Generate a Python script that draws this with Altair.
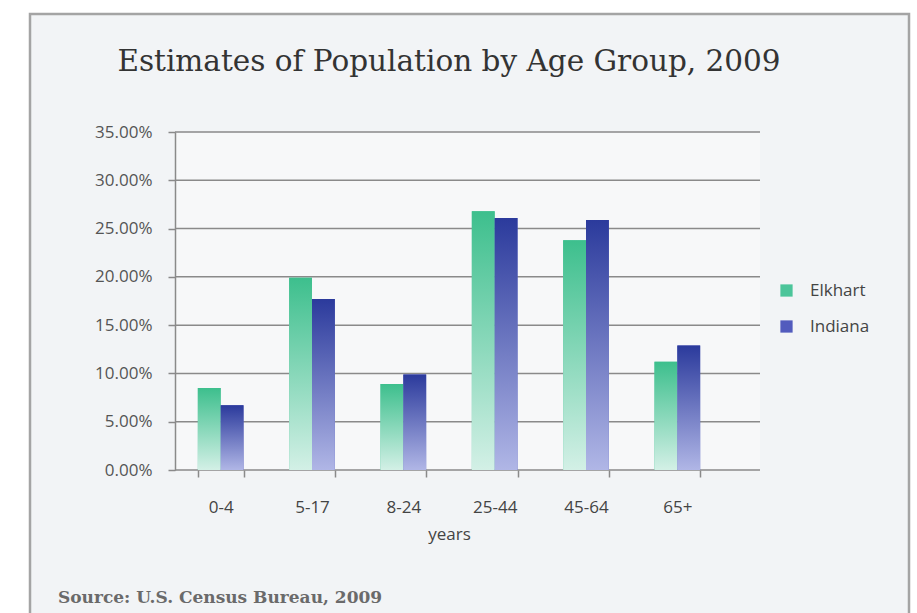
import altair as alt
import pandas as pd

# Share of population by age group (percent), 2009
age_groups = ["0-4", "5-17", "8-24", "25-44", "45-64", "65+"]
elkhart = [8.5, 19.9, 8.9, 26.8, 23.8, 11.2]
indiana = [6.7, 17.7, 9.9, 26.1, 25.9, 12.9]
series = ["Elkhart", "Indiana"]
y_ticks = [0, 5, 10, 15, 20, 25, 30, 35]

title_text = "Estimates of Population by Age Group, 2009"
source_text = "Source: U.S. Census Bureau, 2009"

rows = []
for g, e, i in zip(age_groups, elkhart, indiana):
    rows.append({"group": g, "area": "Elkhart", "share": e / 100})
    rows.append({"group": g, "area": "Indiana", "share": i / 100})
df = pd.DataFrame(rows)
grid_df = pd.DataFrame({"share": [v / 100 for v in y_ticks]})

W, H = 585, 338
PAD_L, PAD_T = 175, 132
SANS = "Open Sans"
SERIF = "DejaVu Serif"
LINE = "#8a8a8a"

x_enc = alt.X(
    "group:N",
    sort=age_groups,
    scale=alt.Scale(domain=age_groups, range=[0, 548], paddingInner=0.5, paddingOuter=0.25),
    axis=alt.Axis(
        title="years", labelAngle=0, tickBand="extent", domain=False, grid=False,
        tickSize=7, tickColor=LINE, tickWidth=1.5,
        labelFont=SANS, labelFontSize=17, labelColor="#444", labelPadding=22,
        titleFont=SANS, titleFontSize=17, titleFontWeight="normal", titleColor="#444",
        titlePadding=11,
    ),
)
y_scale = alt.Scale(domain=[0, 0.35], nice=False)
y_enc = alt.Y(
    "share:Q",
    scale=y_scale,
    axis=alt.Axis(
        title=None, values=[v / 100 for v in y_ticks], format=".2%", grid=False,
        tickSize=7, tickColor=LINE, tickWidth=1.5,
        domainColor=LINE, domainWidth=1.5,
        labelFont=SANS, labelFontSize=17, labelColor="#555", labelPadding=16,
    ),
)
xoff = alt.XOffset("area:N", sort=series, scale=alt.Scale(domain=series, paddingInner=0, paddingOuter=0))

# horizontal gridlines across the whole plot width
grid = alt.Chart(grid_df).mark_rule(color=LINE, strokeWidth=1.5).encode(
    y=alt.Y("share:Q", scale=y_scale), x=alt.value(0), x2=alt.value(W)
)

# Solid bars carry the legend; gradient bars are drawn over them
base = alt.Chart(df).mark_bar().encode(
    x=x_enc, y=y_enc, xOffset=xoff,
    color=alt.Color(
        "area:N",
        scale=alt.Scale(domain=series, range=["#4cc59a", "#525bbd"]),
        legend=alt.Legend(
            title=None, orient="none", legendX=603, legendY=150,
            symbolType="square", symbolSize=150, symbolStrokeWidth=0,
            labelFont=SANS, labelFontSize=17, labelColor="#444",
            labelOffset=15, rowPadding=18,
        ),
    ),
)


def gradient(top, bottom):
    return alt.Gradient(
        gradient="linear", x1=0, y1=0, x2=0, y2=1,
        stops=[alt.GradientStop(offset=0, color=top), alt.GradientStop(offset=1, color=bottom)],
    )


elk_bars = alt.Chart(df).transform_filter(alt.datum.area == "Elkhart").mark_bar(
    fill=gradient("#3dbf8d", "#d3f0e6")
).encode(x=x_enc, y=y_enc, xOffset=xoff)

ind_bars = alt.Chart(df).transform_filter(alt.datum.area == "Indiana").mark_bar(
    fill=gradient("#2b3a9c", "#b0b6e6")
).encode(x=x_enc, y=y_enc, xOffset=xoff)

one = alt.Data(values=[{"t": source_text, "h": title_text}])

# white margin outside the panel frame, and the frame itself
margins = [
    (-PAD_L, -145, -PAD_T, 613 - PAD_T),
    (-PAD_L, 917 - PAD_L, -PAD_T, -118),
    (734, 917 - PAD_L, -PAD_T, 613 - PAD_T),
]
margin_layers = [
    alt.Chart(one).mark_rect(fill="white").encode(
        x=alt.value(a), x2=alt.value(b), y=alt.value(c), y2=alt.value(d)
    )
    for a, b, c, d in margins
]
frame = alt.Chart(one).mark_rect(fill=None, stroke="#a4a4a4", strokeWidth=2.5).encode(
    x=alt.value(-145), x2=alt.value(734), y=alt.value(-118), y2=alt.value(500)
)

heading = alt.Chart(one).mark_text(
    align="center", baseline="alphabetic", font=SERIF, fontSize=29.5, color="#333"
).encode(text="h:N", x=alt.value(449 - PAD_L), y=alt.value(71 - PAD_T))

source = alt.Chart(one).mark_text(
    align="left", baseline="alphabetic", font=SERIF, fontSize=17, fontWeight="bold", color="#6a6a6a"
).encode(text="t:N", x=alt.value(58 - PAD_L), y=alt.value(603 - PAD_T))

chart = alt.layer(
    *margin_layers, frame, grid, base, elk_bars, ind_bars, heading, source
).properties(
    width=W, height=H,
    padding={"left": PAD_L, "top": PAD_T, "right": 917 - PAD_L - W, "bottom": 613 - PAD_T - H},
    autosize=alt.AutoSizeParams(type="none"),
).configure(
    background="#f2f4f6",
).configure_view(
    fill="#f7f8f9", stroke=None,
)

chart.save("out.html", embed_options={"renderer": "svg", "actions": False})
